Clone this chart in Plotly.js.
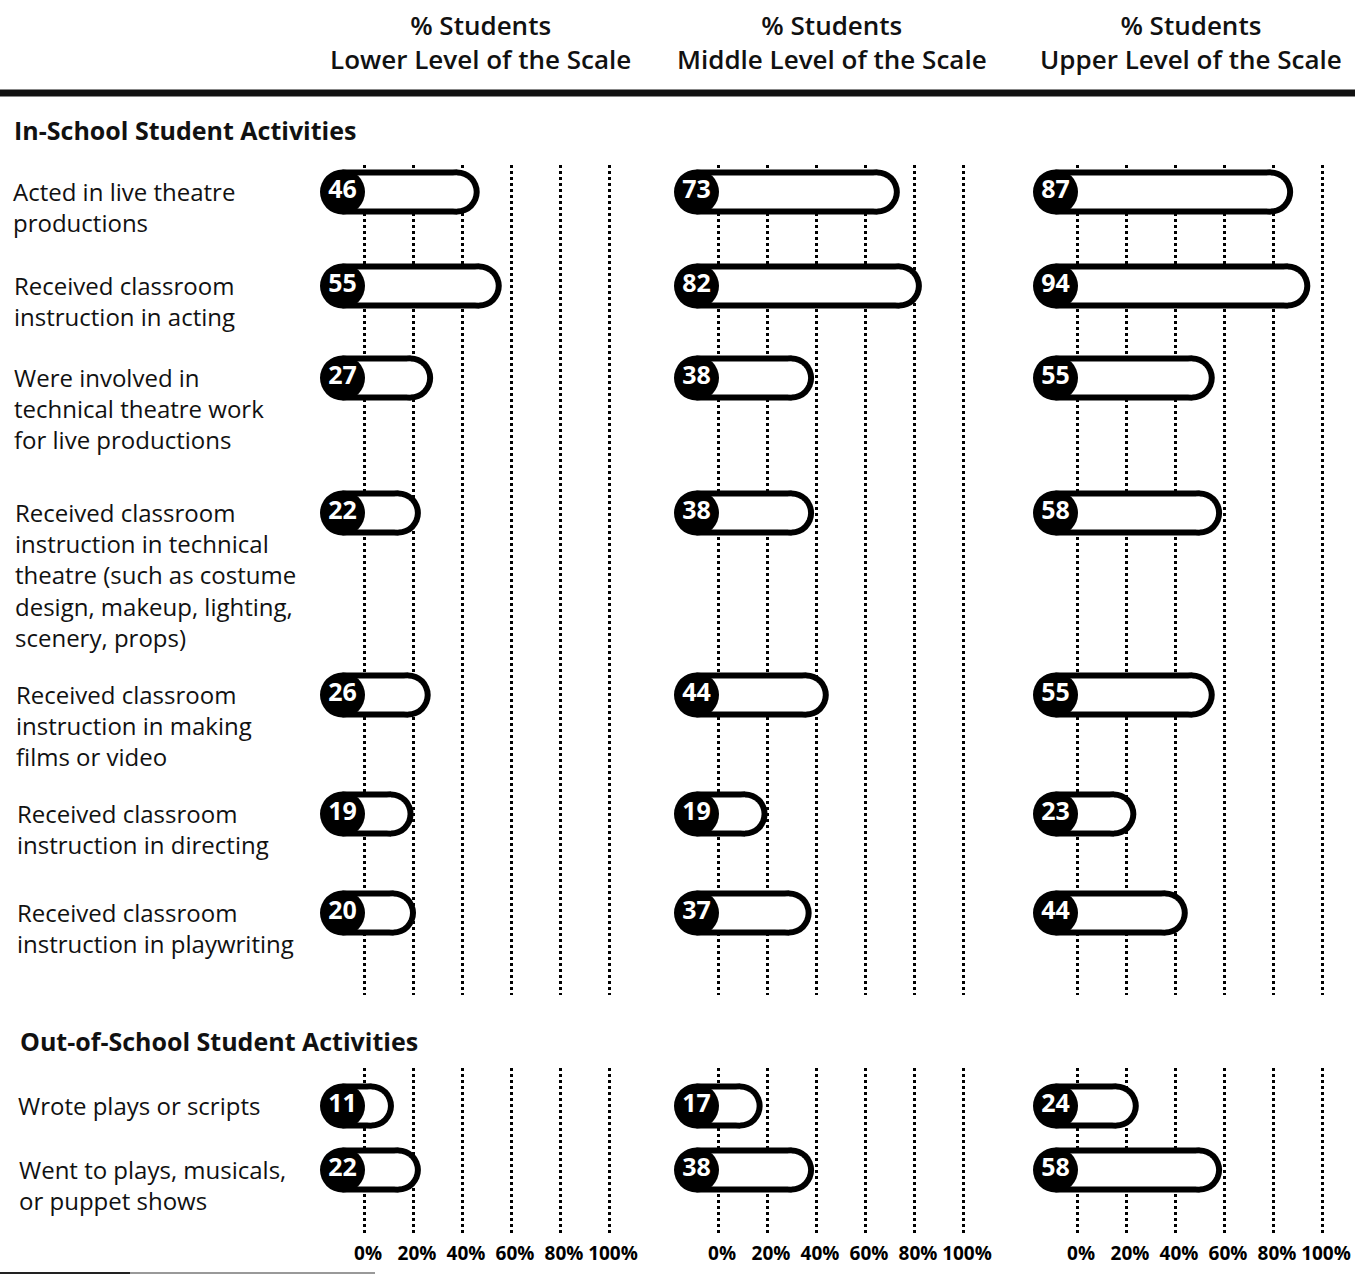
<!DOCTYPE html>
<html>
<head>
<meta charset="utf-8">
<script src="https://cdn.plot.ly/plotly-3.0.1.min.js"></script>
<style>
  body { margin: 0; background: #fff; }
  #chart { width: 1361px; height: 1276px; }
</style>
</head>
<body>
<div id="chart"></div>
<script>
// Données
const levelTitles = ['Lower Level of the Scale', 'Middle Level of the Scale', 'Upper Level of the Scale'];

const inSchoolItems = [
  'Acted in live theatre<br>productions',
  'Received classroom<br>instruction in acting',
  'Were involved in<br>technical theatre work<br>for live productions',
  'Received classroom<br>instruction in technical<br>theatre (such as costume<br>design, makeup, lighting,<br>scenery, props)',
  'Received classroom<br>instruction in making<br>films or video',
  'Received classroom<br>instruction in directing',
  'Received classroom<br>instruction in playwriting'
];
const inLower  = [46, 55, 27, 22, 26, 19, 20];
const inMiddle = [73, 82, 38, 38, 44, 19, 37];
const inUpper  = [87, 94, 55, 58, 55, 23, 44];

const outSchoolItems = [
  'Wrote plays or scripts',
  'Went to plays, musicals,<br>or puppet shows'
];
const outLower  = [11, 22];
const outMiddle = [17, 38];
const outUpper  = [24, 58];

const tickVals = [0, 20, 40, 60, 80, 100];
const tickText = ['0%', '20%', '40%', '60%', '80%', '100%'];

// Mise en page (pixels)
const W = 1361, H = 1276;
const ppu = 2.45;                 // pixels par point de %
const zeroPx = [364, 718, 1077];  // position du 0% de chaque colonne
const xMin = -20, xMax = 105;
const pillH = 45, border = 6;

// positions verticales des lignes
const inTop = 192, inGaps = [94, 92, 135, 182, 119, 99];
const outTop = 1106, outGaps = [64];
function rowPositions(top, gaps) {
  const ys = [top];
  gaps.forEach(g => ys.push(ys[ys.length - 1] + g));
  return ys;
}
const inY = rowPositions(inTop, inGaps);
const outY = rowPositions(outTop, outGaps);

const FONT = 'Open Sans, sans-serif';

// Fonction pour construire les "pilules" d'une colonne
function pillTraces(values, ys, xa, ya) {
  const lc = -21.5 / ppu;                                  // centre du rond noir
  const rc = values.map(v => v + (3 - pillH / 2) / ppu);   // centre du bout arrondi
  const lx = [], ly = [];
  values.forEach((v, i) => { lx.push(lc, rc[i], null); ly.push(ys[i], ys[i], null); });
  const common = { xaxis: xa, yaxis: ya, hoverinfo: 'skip', showlegend: false };
  return [
    Object.assign({ x: lx, y: ly, mode: 'lines', line: { color: '#000', width: pillH } }, common),
    Object.assign({ x: rc, y: ys, mode: 'markers', marker: { color: '#000', size: pillH } }, common),
    Object.assign({ x: lx, y: ly, mode: 'lines', line: { color: '#fff', width: pillH - 2 * border } }, common),
    Object.assign({ x: rc, y: ys, mode: 'markers', marker: { color: '#fff', size: pillH - 2 * border } }, common),
    Object.assign({
      x: values.map(() => lc), y: ys, mode: 'markers+text',
      marker: { color: '#000', size: pillH },
      text: values.map(String), textposition: 'middle center',
      textfont: { family: FONT, size: 25, color: '#fff', weight: 700 }
    }, common)
  ];
}

const inValues = [inLower, inMiddle, inUpper];
const outValues = [outLower, outMiddle, outUpper];

let traces = [];
inValues.forEach((vals, k) => { traces = traces.concat(pillTraces(vals, inY, k === 0 ? 'x' : 'x' + (k + 1), 'y')); });
outValues.forEach((vals, k) => { traces = traces.concat(pillTraces(vals, outY, 'x' + (k + 4), 'y2')); });

const layout = {
  width: W, height: H,
  margin: { l: 0, r: 0, t: 0, b: 0 },
  paper_bgcolor: '#fff', plot_bgcolor: 'rgba(0,0,0,0)',
  showlegend: false,
  font: { family: FONT, color: '#111' },
  yaxis: {
    domain: [(H - 995) / H, (H - 165) / H], range: [995, 165],
    showgrid: false, zeroline: false, showticklabels: false, fixedrange: true
  },
  yaxis2: {
    domain: [(H - 1235) / H, (H - 1068) / H], range: [1235, 1068],
    showgrid: false, zeroline: false, showticklabels: false, fixedrange: true
  },
  annotations: [],
  shapes: [
    { type: 'line', xref: 'paper', yref: 'paper', x0: 0, x1: 1355 / W, y0: 1 - 93 / H, y1: 1 - 93 / H,
      line: { color: '#111', width: 7 } },
    { type: 'line', xref: 'paper', yref: 'paper', x0: 0, x1: 375 / W, y0: 1 - 1273 / H, y1: 1 - 1273 / H,
      line: { color: '#999', width: 2 } },
    { type: 'line', xref: 'paper', yref: 'paper', x0: 0, x1: 130 / W, y0: 1 - 1273 / H, y1: 1 - 1273 / H,
      line: { color: '#222', width: 2 } }
  ]
};

// axes x : 3 colonnes x 2 sections
for (let s = 0; s < 2; s++) {
  for (let k = 0; k < 3; k++) {
    const n = s * 3 + k + 1;
    const name = n === 1 ? 'xaxis' : 'xaxis' + n;
    layout[name] = {
      domain: [(zeroPx[k] + xMin * ppu) / W, (zeroPx[k] + xMax * ppu) / W],
      range: [xMin, xMax],
      anchor: s === 0 ? 'y' : 'y2',
      tickvals: tickVals, ticktext: tickText,
      showticklabels: s === 1,
      ticks: '', ticklabelshift: 4, ticklabelstandoff: 5,
      tickfont: { family: FONT, size: 19, color: '#000', weight: 700 },
      showgrid: true, griddash: 'dot', gridcolor: '#000', gridwidth: 3,
      zeroline: false, showline: false, fixedrange: true, automargin: false
    };
  }
}

// titres de colonnes
const headerX = [480, 832, 1191];
levelTitles.forEach((t, k) => {
  layout.annotations.push({
    xref: 'paper', yref: 'paper', x: headerX[k] / W, y: 1 - 42 / H,
    xanchor: 'center', yanchor: 'middle', showarrow: false, align: 'center',
    text: '% Students<br>' + t,
    font: { family: FONT, size: 26, color: '#111', weight: 600 }
  });
});

// titres de section
[['In-School Student Activities', 12, 130], ['Out-of-School Student Activities', 18, 1041]].forEach(([t, px, py]) => {
  layout.annotations.push({
    xref: 'paper', yref: 'paper', x: px / W, y: 1 - py / H,
    xanchor: 'left', yanchor: 'middle', showarrow: false,
    text: t, font: { family: FONT, size: 25, color: '#111', weight: 700 }
  });
});

// libellés des lignes (léger décalage de la numérisation)
function addLabels(items, ys, ya) {
  items.forEach((t, i) => {
    layout.annotations.push({
      xref: 'paper', yref: ya, x: (11 + (ys[i] - 190) * 0.006) / W, y: ys[i],
      xanchor: 'left', yanchor: 'top', yshift: 19, showarrow: false, align: 'left',
      text: t, font: { family: FONT, size: 24, color: '#111' }
    });
  });
}
addLabels(inSchoolItems, inY, 'y');
addLabels(outSchoolItems, outY, 'y2');

Plotly.newPlot('chart', traces, layout, { staticPlot: true });
</script>
</body>
</html>
